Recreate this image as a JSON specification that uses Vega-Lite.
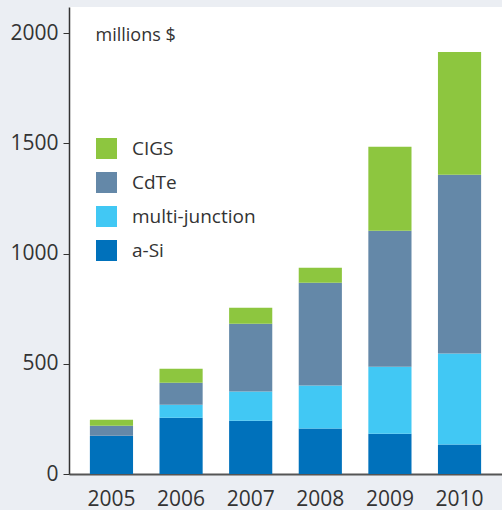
{
  "$schema": "https://vega.github.io/schema/vega-lite/v6.json",
  "width": 433,
  "height": 467,
  "autosize": {"type": "none"},
  "padding": {"left": 69, "top": 7, "right": 0, "bottom": 36},
  "background": "#ebeef3",
  "config": {
    "view": {"fill": "white", "stroke": null},
    "font": "Open Sans",
    "axis": {"labelFont": "Open Sans", "titleFont": "Open Sans", "labelColor": "#333333", "titleColor": "#333333", "grid": false}
  },
  "datasets": {
    "stackorder": [
      {"type": "a-Si", "rank": 1},
      {"type": "multi-junction", "rank": 2},
      {"type": "CdTe", "rank": 3},
      {"type": "CIGS", "rank": 4}
    ]
  },
  "data": {
    "values": [
      {"year": "2005", "type": "a-Si", "value": 174},
      {"year": "2005", "type": "multi-junction", "value": 0},
      {"year": "2005", "type": "CdTe", "value": 45},
      {"year": "2005", "type": "CIGS", "value": 27},
      {"year": "2006", "type": "a-Si", "value": 255},
      {"year": "2006", "type": "multi-junction", "value": 59},
      {"year": "2006", "type": "CdTe", "value": 100},
      {"year": "2006", "type": "CIGS", "value": 64},
      {"year": "2007", "type": "a-Si", "value": 242},
      {"year": "2007", "type": "multi-junction", "value": 132},
      {"year": "2007", "type": "CdTe", "value": 308},
      {"year": "2007", "type": "CIGS", "value": 72},
      {"year": "2008", "type": "a-Si", "value": 206},
      {"year": "2008", "type": "multi-junction", "value": 195},
      {"year": "2008", "type": "CdTe", "value": 467},
      {"year": "2008", "type": "CIGS", "value": 68},
      {"year": "2009", "type": "a-Si", "value": 183},
      {"year": "2009", "type": "multi-junction", "value": 304},
      {"year": "2009", "type": "CdTe", "value": 617},
      {"year": "2009", "type": "CIGS", "value": 381},
      {"year": "2010", "type": "a-Si", "value": 134},
      {"year": "2010", "type": "multi-junction", "value": 413},
      {"year": "2010", "type": "CdTe", "value": 811},
      {"year": "2010", "type": "CIGS", "value": 557}
    ]
  },
  "transform": [
    {"lookup": "type", "from": {"data": {"name": "stackorder"}, "key": "type", "fields": ["rank"]}}
  ],
  "mark": {"type": "bar"},
  "encoding": {
    "x": {
      "field": "year",
      "type": "nominal",
      "scale": {"paddingInner": 0.38, "paddingOuter": 0.3},
      "axis": {
        "title": null,
        "labelAngle": 0,
        "labelFontSize": 21,
        "labelPadding": 14,
        "ticks": false,
        "domainColor": "#555555",
        "domainWidth": 2
      }
    },
    "y": {
      "field": "value",
      "type": "quantitative",
      "stack": "zero",
      "scale": {"domain": [0, 2119], "nice": false},
      "axis": {
        "values": [0, 500, 1000, 1500, 2000],
        "format": "d",
        "title": "millions $",
        "titleAngle": 0,
        "titleAlign": "left",
        "titleBaseline": "alphabetic",
        "titleX": 26,
        "titleY": 33,
        "titleFontSize": 18,
        "titleFontWeight": "normal",
        "labelFontSize": 21,
        "labelPadding": 5,
        "tickSize": 6,
        "tickColor": "#333333",
        "domainColor": "#333333",
        "domainWidth": 1.5
      }
    },
    "order": {"field": "rank", "type": "quantitative", "sort": "ascending"},
    "color": {
      "field": "type",
      "type": "nominal",
      "scale": {
        "domain": ["CIGS", "CdTe", "multi-junction", "a-Si"],
        "range": ["#8dc63f", "#6488a8", "#41c8f4", "#0071bb"]
      },
      "legend": {
        "title": null,
        "orient": "none",
        "legendX": 27,
        "legendY": 131,
        "symbolType": "square",
        "symbolSize": 441,
        "symbolStrokeWidth": 0,
        "symbolOpacity": 1,
        "labelFontSize": 19,
        "labelFont": "Open Sans",
        "labelColor": "#333333",
        "labelOffset": 15,
        "rowPadding": 13
      }
    }
  }
}
